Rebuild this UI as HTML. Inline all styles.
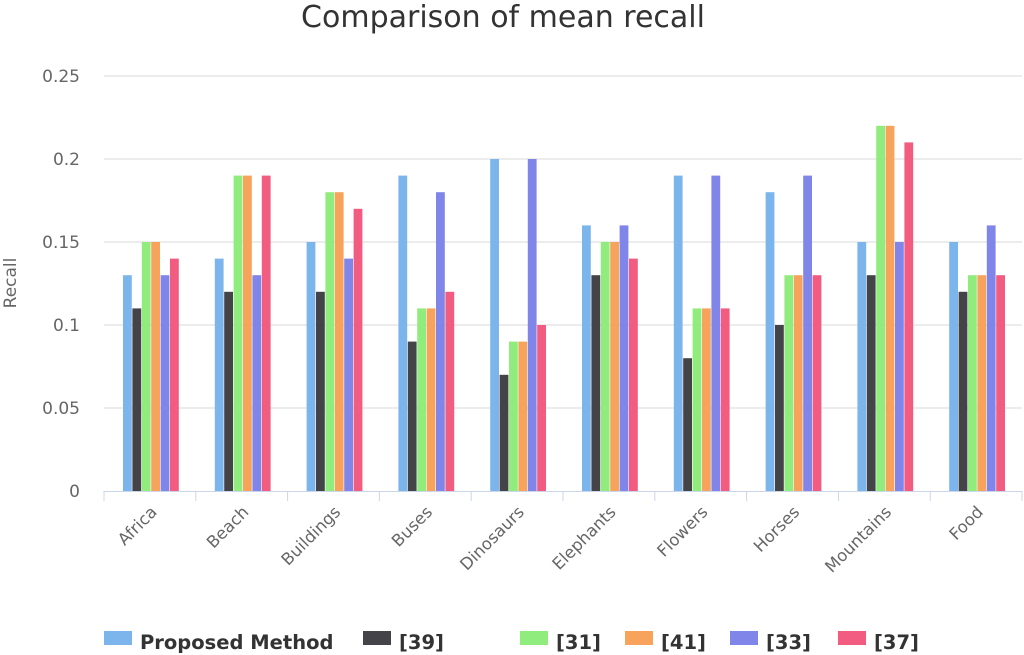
<!DOCTYPE html>
<html><head><meta charset="utf-8"><style>
body{margin:0;background:#fff;font-family:"DejaVu Sans","Liberation Sans",sans-serif}
svg{display:block;font-family:"DejaVu Sans","Liberation Sans",sans-serif}
</style></head><body>
<svg id="chart" width="1024" height="655">
<text x="503" y="27" text-anchor="middle" font-size="30" fill="#333">Comparison of mean recall</text>
<text transform="translate(16,283) rotate(-90)" text-anchor="middle" font-size="17" fill="#666">Recall</text>
</svg>
<script>
const categories=["Africa","Beach","Buildings","Buses","Dinosaurs","Elephants","Flowers","Horses","Mountains","Food"];
const seriesNames=["Proposed Method","[39]","[31]","[41]","[33]","[37]"];
const proposed=[0.13,0.14,0.15,0.19,0.2,0.16,0.19,0.18,0.15,0.15];
const s39=[0.11,0.12,0.12,0.09,0.07,0.13,0.08,0.1,0.13,0.12];
const s31=[0.15,0.19,0.18,0.11,0.09,0.15,0.11,0.13,0.22,0.13];
const s41=[0.15,0.19,0.18,0.11,0.09,0.15,0.11,0.13,0.22,0.13];
const s33=[0.13,0.13,0.14,0.18,0.2,0.16,0.19,0.19,0.15,0.16];
const s37=[0.14,0.19,0.17,0.12,0.1,0.14,0.11,0.13,0.21,0.13];
const yTicks=[0,0.05,0.1,0.15,0.2,0.25];
const yTickLabels=["0","0.05","0.1","0.15","0.2","0.25"];
const colors=["#7cb5ec","#434348","#90ed7d","#f7a35c","#8085e9","#f15c80"];
const series=[proposed,s39,s31,s41,s33,s37];
const svg=document.getElementById('chart');
const NS="http://www.w3.org/2000/svg";
const X0=104,X1=1022,Y0=491,Y1=76,YMAX=0.25;
const y=v=>Y0-(v/YMAX)*(Y0-Y1);
const cw=(X1-X0)/categories.length;
const xc=i=>X0+cw*i;
function mk(t,a){const e=document.createElementNS(NS,t);for(const k in a)e.setAttribute(k,a[k]);svg.appendChild(e);return e;}
yTicks.forEach((t,i)=>{
 if(i>0){const g=mk('line',{x1:X0,x2:X1,y1:y(t),y2:y(t),stroke:'#d8d8d8','stroke-width':1});
 
 }
 const l=mk('text',{x:80,y:y(t)+6,'text-anchor':'end','font-size':17,fill:'#666'});
 l.textContent=yTickLabels[i];
 
 
});
const bw=9.4,groupStart=19;
series.forEach((s,si)=>{
 s.forEach((v,i)=>{
  const r=mk('rect',{x:xc(i)+groupStart+si*bw,y:y(v),width:bw-0.6,height:Y0-y(v),fill:colors[si]});
  
  
 });
});
const ax=mk('line',{x1:X0,x2:X1,y1:Y0+0.5,y2:Y0+0.5,stroke:'#ccd6eb','stroke-width':1});


for(let i=0;i<=categories.length;i++){
 const t=mk('line',{x1:xc(i),x2:xc(i),y1:Y0,y2:Y0+10,stroke:'#ccd6eb'});
 
 
}
categories.forEach((c,i)=>{
 const cx=xc(i)+cw/2+8;
 const l=mk('text',{x:cx,y:Y0+22,'text-anchor':'end','font-size':16.5,fill:'#666',transform:`rotate(-45 ${cx} ${Y0+22})`});
 l.textContent=c;
 
 
});
const legX=[104,363,520,625,730,838];
seriesNames.forEach((n,i)=>{
 const r=mk('rect',{x:legX[i],y:631,width:28,height:14,fill:colors[i]});
 
 
 const t=mk('text',{x:legX[i]+36,y:649,'font-size':19.5,'font-weight':'bold',fill:'#333'});
 t.textContent=n;
 
 
});
</script>
</body></html>
